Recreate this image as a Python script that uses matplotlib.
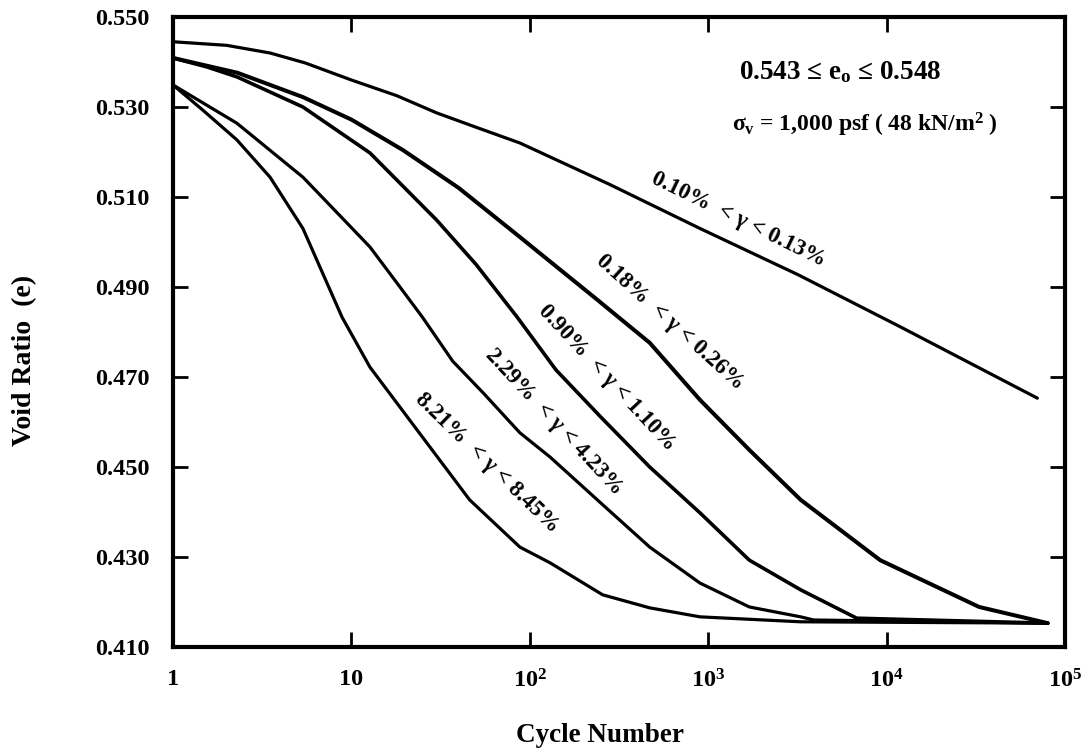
import matplotlib
matplotlib.use('Agg')
from matplotlib import pyplot as plt
from matplotlib.ticker import FixedLocator, FixedFormatter, NullLocator

plt.rcParams['font.family'] = ['Liberation Serif', 'DejaVu Serif']
plt.rcParams['font.weight'] = 'bold'
plt.rcParams['mathtext.fontset'] = 'custom'
plt.rcParams['mathtext.rm'] = 'Liberation Serif:bold'
plt.rcParams['mathtext.it'] = 'Liberation Serif:bold'
plt.rcParams['mathtext.bf'] = 'Liberation Serif:bold'

a_cycles = [1, 2, 3.5, 5.5, 10, 18, 30, 50, 88, 280, 900, 3200, 12000, 70000]
a_void = [0.5445, 0.5437, 0.5420, 0.5398, 0.5360, 0.5325, 0.5287, 0.5255, 0.5220,
          0.5128, 0.5030, 0.4927, 0.4811, 0.4653]

b_cycles = [1, 2.3, 5.35, 10, 19.5, 40, 88, 240, 470, 900, 1700, 3300, 9200, 33000, 80000]
b_void = [0.5409, 0.5376, 0.5322, 0.5272, 0.5204, 0.5120, 0.5011, 0.4871, 0.4776, 0.4649,
          0.4538, 0.4427, 0.4293, 0.4189, 0.4153]

c_cycles = [1, 1.55, 2.28, 5.35, 12.7, 30, 50, 85, 140, 250, 470, 900, 1700, 3300, 6800, 80000]
c_void = [0.5409, 0.5389, 0.5367, 0.5300, 0.5198, 0.5049, 0.4950, 0.4833, 0.4716, 0.4611,
          0.4500, 0.4398, 0.4293, 0.4227, 0.4164, 0.4153]

d_cycles = [1, 2.28, 5.35, 8, 12.7, 18, 25, 37, 55, 88, 130, 250, 470, 900, 1700, 3300,
            3900, 80000]
d_void = [0.5349, 0.5264, 0.5144, 0.5072, 0.4989, 0.4909, 0.4833, 0.4735, 0.4664, 0.4576,
          0.4522, 0.4420, 0.4322, 0.4242, 0.4189, 0.4167, 0.4160, 0.4153]

e_cycles = [1, 1.47, 2.28, 3.5, 5.35, 8.86, 12.7, 24, 46, 88, 130, 256, 470, 900, 3300, 80000]
e_void = [0.5349, 0.5293, 0.5227, 0.5144, 0.5030, 0.4833, 0.4722, 0.4576, 0.4427, 0.4322,
          0.4287, 0.4216, 0.4187, 0.4167, 0.4156, 0.4153]

curve_labels = ['0.10%  < γ < 0.13%', '0.18%  < γ < 0.26%', '0.90%  < γ < 1.10%',
                '2.29%  < γ < 4.23%', '8.21%  < γ < 8.45%']
label_cycles = [1469, 611, 271, 137, 57.5]
label_void = [0.5049, 0.4822, 0.4698, 0.4600, 0.4509]
label_rot = [-26, -42, -47, -47, -44]

x_ticks = [1, 10, 100, 1000, 10000, 100000]
x_tick_labels = ['1', '10', r'$10^2$', r'$10^3$', r'$10^4$', r'$10^5$']
y_ticks = [0.41, 0.43, 0.45, 0.47, 0.49, 0.51, 0.53, 0.55]

fig = plt.figure(figsize=(10.81, 7.5), dpi=100)
ax = fig.add_axes([173 / 1081, 103 / 750, 892 / 1081, 630 / 750])

curves = [(a_cycles, a_void, 2.3), (b_cycles, b_void, 2.9), (c_cycles, c_void, 2.6),
          (d_cycles, d_void, 2.3), (e_cycles, e_void, 2.3)]
for xs, ys, lw in curves:
    ax.plot(xs, ys, color='black', lw=lw, solid_capstyle='round', solid_joinstyle='round')

for txt, lx, ly, rot in zip(curve_labels, label_cycles, label_void, label_rot):
    ax.text(lx, ly, txt, rotation=rot, rotation_mode='anchor', ha='center', va='center',
            fontsize=16.5, fontweight='bold')

ax.set_xscale('log')
ax.set_xlim(1, 1e5)
ax.set_ylim(0.41, 0.55)
ax.xaxis.set_major_locator(FixedLocator(x_ticks))
ax.xaxis.set_major_formatter(FixedFormatter(x_tick_labels))
ax.xaxis.set_minor_locator(NullLocator())
ax.set_yticks(y_ticks)
ax.set_yticklabels(['%.3f' % v for v in y_ticks])

ax.tick_params(axis='both', which='major', direction='in', length=11, width=2,
               top=True, right=True, labelsize=17.5)
ax.tick_params(axis='x', pad=16)
ax.tick_params(axis='y', pad=17)
for sp in ax.spines.values():
    sp.set_linewidth(3)

ax.text(0.748, 0.913, '0.543 ≤ e$_{o}$ ≤ 0.548', transform=ax.transAxes,
        ha='center', va='center', fontsize=19.5, fontweight='bold')
ax.text(0.776, 0.829, r'$\sigma_{v}$ = 1,000 psf ( 48 kN/m$^2$ )', transform=ax.transAxes,
        ha='center', va='center', fontsize=17, fontweight='bold')

fig.text(600 / 1081, (750 - 735) / 750, 'Cycle Number', ha='center', va='center',
         fontsize=19.5, fontweight='bold')
fig.text(25 / 1081, (750 - 360) / 750, 'Void Ratio  (e)', rotation=90, ha='center',
         va='center', fontsize=20, fontweight='bold')

fig.savefig('out.png', dpi=100)
